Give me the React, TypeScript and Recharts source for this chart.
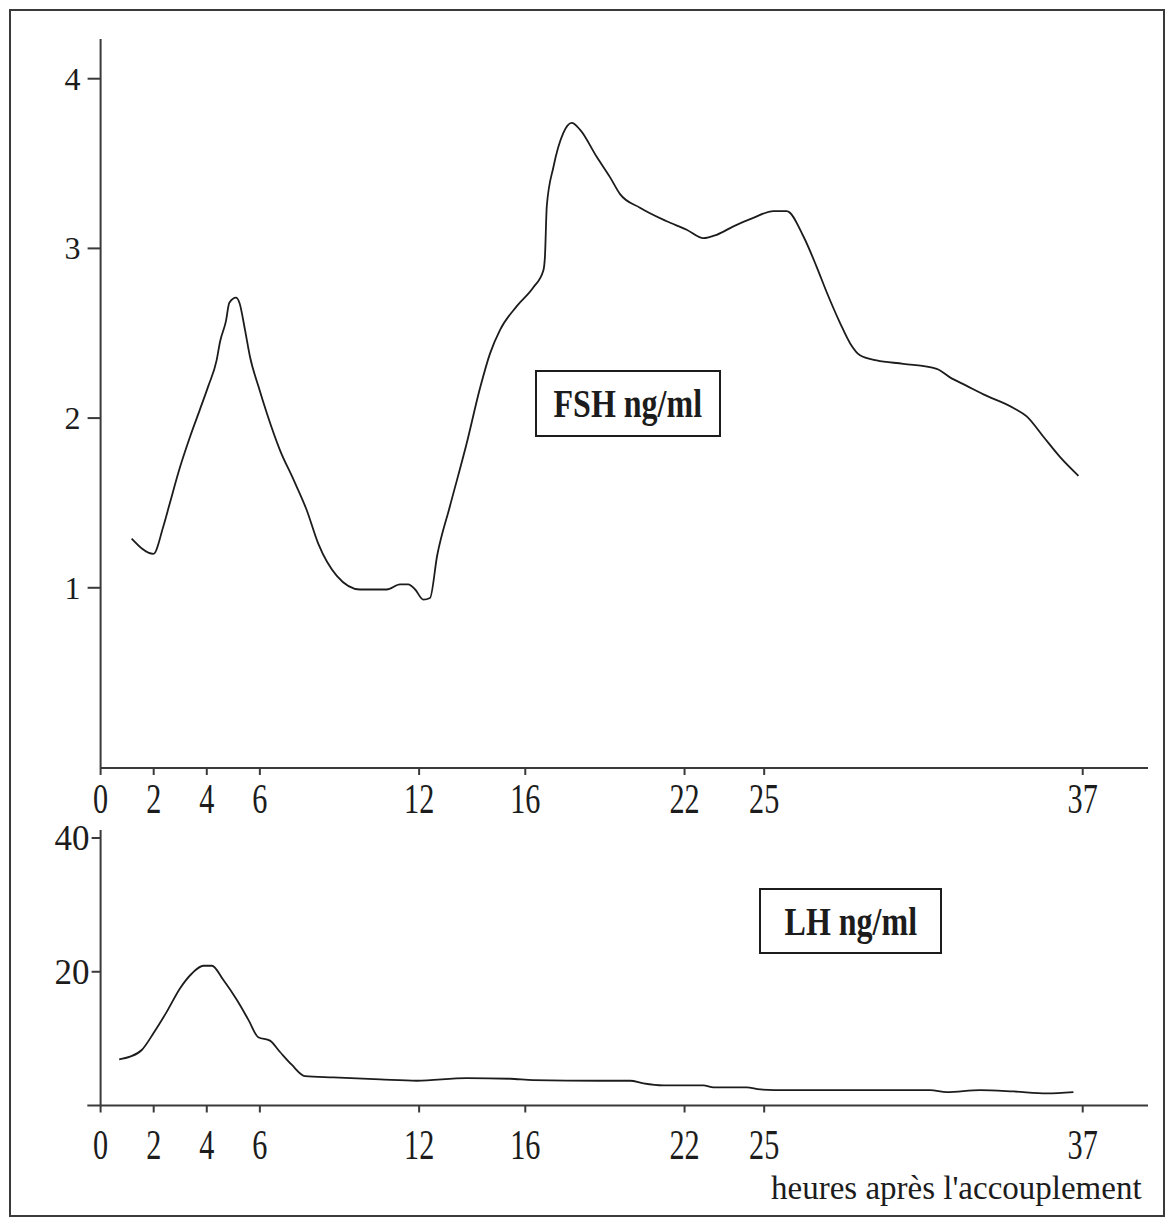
import React from 'react';
import { LineChart, Line, XAxis, YAxis, ReferenceLine } from 'recharts';

// hours after mating (x) and hormone levels
const hourTicks = [0, 2, 4, 6, 12, 16, 22, 25, 37];
const X_MAX = 39.46;

const fshHours = [1.17, 1.99, 2.36, 2.61, 2.99, 3.37, 3.74, 4.06, 4.37, 4.5, 4.72, 4.85, 5.1, 5.23, 5.44, 5.63, 5.94, 6.26, 6.76, 7.26, 7.76, 8.2, 8.9, 9.77, 10.78, 11.28, 11.59, 11.85, 12.16, 12.41, 12.68, 13.16, 13.79, 14.3, 14.67, 15.05, 15.68, 16.3, 16.68, 16.74, 16.81, 17.06, 17.43, 17.75, 18.06, 18.69, 19.19, 19.57, 20.32, 21.33, 22.08, 22.71, 23.21, 23.84, 24.59, 25.35, 25.85, 26.48, 26.98, 27.36, 27.86, 28.24, 28.61, 29.24, 30.24, 31.5, 32.0, 32.63, 33.26, 34.39, 34.89, 35.52, 36.15, 36.84];
const fshValues = [1.29, 1.2, 1.36, 1.5, 1.71, 1.89, 2.05, 2.19, 2.34, 2.45, 2.57, 2.68, 2.71, 2.68, 2.52, 2.36, 2.19, 2.03, 1.81, 1.64, 1.46, 1.26, 1.07, 0.99, 0.99, 1.02, 1.02, 0.99, 0.93, 0.94, 1.19, 1.48, 1.85, 2.18, 2.38, 2.52, 2.66, 2.77, 2.87, 2.95, 3.25, 3.48, 3.68, 3.74, 3.7, 3.54, 3.42, 3.32, 3.24, 3.16, 3.11, 3.06, 3.08, 3.13, 3.18, 3.22, 3.22, 3.07, 2.89, 2.74, 2.56, 2.44, 2.37, 2.34, 2.32, 2.29, 2.24, 2.19, 2.14, 2.06, 2.01, 1.89, 1.77, 1.66];
const fshTicks = [1, 2, 3, 4];

const lhHours = [0.7, 1.11, 1.55, 1.99, 2.49, 2.99, 3.43, 3.87, 4.19, 4.62, 5.13, 5.57, 5.94, 6.38, 6.76, 7.2, 7.7, 8.77, 10.53, 11.91, 13.79, 15.43, 16.3, 18.82, 19.95, 20.45, 21.2, 22.71, 23.09, 24.34, 24.85, 25.85, 31.25, 31.88, 33.13, 34.39, 35.65, 36.65];
const lhValues = [6.9, 7.3, 8.3, 10.8, 14.0, 17.5, 19.7, 20.9, 20.9, 18.8, 15.8, 12.8, 10.2, 9.7, 8.0, 6.1, 4.4, 4.2, 3.9, 3.7, 4.1, 4.0, 3.8, 3.7, 3.7, 3.3, 3.0, 3.0, 2.7, 2.7, 2.4, 2.3, 2.3, 2.0, 2.3, 2.1, 1.8, 2.0];
const lhTicks = [20, 40];

const fshData = fshHours.map((h, i) => ({ h, v: fshValues[i] }));
const lhData = lhHours.map((h, i) => ({ h, v: lhValues[i] }));

const FONT = '"Liberation Serif", "Times New Roman", serif';
const INK = '#1c1c1c';
const AXIS = '#3a3a3a';

const makeXTick = (dy: number) => (props: any) => {
  const { x, y, payload } = props;
  return (
    <g transform={`translate(${x},${y + dy})`}>
      <text x={0} y={0} textAnchor="middle" fontFamily={FONT} fontSize={42} fill={INK} transform="scale(0.72,1)">
        {payload.value}
      </text>
    </g>
  );
};

const makeYTick = (dy: number, size: number) => (props: any) => {
  const { x, y, payload } = props;
  return (
    <text x={x} y={y + dy} textAnchor="end" fontFamily={FONT} fontSize={size} fill={INK}>
      {payload.value}
    </text>
  );
};

const boxStyle: React.CSSProperties = {
  position: 'absolute',
  border: `2px solid ${INK}`,
  boxSizing: 'border-box',
  display: 'flex',
  alignItems: 'center',
  justifyContent: 'center',
  fontFamily: FONT,
  fontWeight: 'bold',
  fontSize: 40,
  color: INK,
  background: '#fff',
};

export default function App() {
  return (
    <div style={{ position: 'absolute', left: 0, top: 0, width: 1168, height: 1220, background: '#fff' }}>
      <div
        style={{
          position: 'absolute',
          left: 9,
          top: 9,
          width: 1156,
          height: 1208,
          border: `2px solid ${AXIS}`,
          boxSizing: 'border-box',
        }}
      />

      <div style={{ position: 'absolute', left: 0, top: 0 }}>
        <LineChart width={1168} height={835} data={fshData} margin={{ top: 39, right: 20, bottom: 17, left: 40.6 }}>
          <XAxis
            dataKey="h"
            type="number"
            domain={[0, X_MAX]}
            ticks={hourTicks}
            interval={0}
            height={50}
            stroke={AXIS}
            strokeWidth={2}
            tickSize={7}
            tick={makeXTick(36)}
          />
          <YAxis
            type="number"
            domain={[-0.062, 4.234]}
            ticks={fshTicks}
            width={60}
            stroke={AXIS}
            strokeWidth={2}
            tickSize={13}
            tickMargin={7}
            tick={makeYTick(11, 32)}
          />
          <Line type="monotone" dataKey="v" stroke={INK} strokeWidth={1.8} dot={false} isAnimationActive={false} />
        </LineChart>
      </div>

      <div style={{ position: 'absolute', left: 0, top: 800 }}>
        <LineChart width={1168} height={420} data={lhData} margin={{ top: 30, right: 20, bottom: 64.5, left: 40.6 }}>
          <XAxis
            dataKey="h"
            type="number"
            domain={[0, X_MAX]}
            ticks={hourTicks}
            interval={0}
            height={50}
            stroke={AXIS}
            strokeWidth={2}
            tickSize={7}
            tick={makeXTick(44)}
          />
          <YAxis
            type="number"
            domain={[0, 41.2]}
            ticks={lhTicks}
            width={60}
            stroke={AXIS}
            strokeWidth={2}
            tickSize={9}
            tickMargin={2}
            tick={makeYTick(12, 35)}
          />
          <ReferenceLine
            segment={[{ x: -0.5, y: 0 }, { x: 0, y: 0 }]}
            stroke={AXIS}
            strokeWidth={2}
            ifOverflow="visible"
          />
          <Line type="monotone" dataKey="v" stroke={INK} strokeWidth={1.8} dot={false} isAnimationActive={false} />
        </LineChart>
      </div>

      <div style={{ ...boxStyle, left: 535, top: 370, width: 186, height: 67 }}>
        <span style={{ display: 'inline-block', transform: 'scaleX(0.8)', whiteSpace: 'nowrap' }}>FSH ng/ml</span>
      </div>
      <div style={{ ...boxStyle, left: 759, top: 888, width: 183, height: 66 }}>
        <span style={{ display: 'inline-block', transform: 'scaleX(0.8)', whiteSpace: 'nowrap' }}>LH ng/ml</span>
      </div>

      <div
        style={{
          position: 'absolute',
          left: 771,
          top: 1172,
          fontFamily: FONT,
          fontSize: 33,
          lineHeight: '33px',
          color: INK,
          whiteSpace: 'nowrap',
        }}
      >
        heures après l'accouplement
      </div>
    </div>
  );
}
